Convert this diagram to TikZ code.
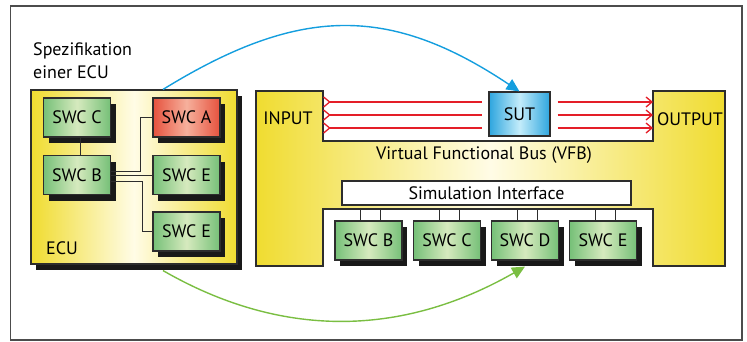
\documentclass[tikz,border=0pt]{standalone}
\usepackage{fontspec}
\setmainfont{PT Sans}
\usetikzlibrary{arrows.meta}
\usetikzlibrary{shadows}

\definecolor{ecuyellow}{RGB}{240,220,48}
\definecolor{ecucream}{RGB}{255,252,230}
\definecolor{swcgreen}{RGB}{118,192,120}
\definecolor{swclight}{RGB}{214,234,190}
\definecolor{swcred}{RGB}{230,82,62}
\definecolor{swcpink}{RGB}{246,176,156}
\definecolor{sutblue}{RGB}{45,165,222}
\definecolor{sutlight}{RGB}{195,236,250}
\definecolor{busred}{RGB}{228,30,40}
\definecolor{specblue}{RGB}{20,158,222}
\definecolor{testgreen}{RGB}{122,190,66}
\definecolor{edge}{RGB}{45,45,45}

\begin{document}
\begin{tikzpicture}[x=1pt, y=-1pt, font=\fontsize{18}{23}\selectfont,
    box/.style={draw=edge, line width=1.1pt, inner sep=0pt},
    shadowed/.style={drop shadow={shadow xshift=5pt, shadow yshift=-6pt, fill=black!90, opacity=1}},
    swc/.style={box, shadowed, minimum width=67pt, minimum height=39pt,
        left color=swcgreen, right color=swcgreen, middle color=swclight},
    swcA/.style={swc, left color=swcred, right color=swcred, middle color=swcpink},
    link/.style={draw=edge, line width=1pt},
    bus/.style={busred, line width=1.3pt},
    spec/.style={specblue, line width=1.4pt, -{Triangle[length=13pt, width=12pt]}},
    test/.style={testgreen, line width=1.4pt, -{Triangle[length=13pt, width=12pt]}}]
    \useasboundingbox (0,0) rectangle (747,341);
    \draw[black!70, line width=1.3pt] (10.5,6) rectangle (742,340);

    % ECU specification
    \node[anchor=north west, align=left, inner sep=0pt] (spec) at (33,42) {Spezifikation\\einer ECU};
    \node[box, shadowed, minimum width=206pt, minimum height=174pt,
        left color=ecuyellow, right color=ecuyellow, middle color=ecucream] (ecu) at (134,177) {};
    \node[anchor=west, inner sep=0pt] (ecutext) at (46,248) {ECU};
    \node[swc] (swcC) at (77,117.5) {SWC C};
    \node[swcA] (swcA) at (186.5,117.5) {SWC A};
    \node[swc] (swcB) at (77,175) {SWC B};
    \node[swc] (swcE) at (186.5,175) {SWC E};
    \node[swc] (swcEb) at (186.5,231.5) {SWC E};
    \draw[link] ([xshift=3pt]swcC.south) -- ([xshift=3pt]swcB.north);
    \draw[link] ([yshift=4pt]swcB.east) -- ++(29,0) |- (swcA.west);
    \draw[link] (swcB.east) -- (swcE.west);
    \draw[link] ([yshift=-6pt]swcB.east) -- ++(31,0) |- (swcEb.west);

    % virtual functional bus
    \path[draw=edge, line width=1.1pt, left color=ecuyellow, right color=ecuyellow, middle color=ecucream]
        (256,91) -- (323,91) -- (323,141) -- (653,141) -- (653,91) -- (725,91) -- (725,266)
        -- (653,266) -- (653,209) -- (323,209) -- (323,266) -- (256,266) -- cycle;
    \coordinate (inport) at (323,115);
    \coordinate (outport) at (653,115);
    \node (input) at (288,118) {INPUT};
    \node (output) at (690,119) {OUTPUT};
    \node[box, minimum width=61pt, minimum height=44pt,
        left color=sutblue, right color=sutblue, middle color=sutlight] (sut) at (519.5,114) {SUT};
    \coordinate (sutin) at ([xshift=-6pt]sut.west |- inport);
    \coordinate (sutout) at ([xshift=7pt]sut.east |- outport);
    \foreach \dy in {-13,0,13} {
        \draw[bus, {Straight Barb[reversed, length=6pt, width=10pt]}-] ([yshift=\dy pt]inport) -- ([yshift=\dy pt]sutin);
        \draw[bus, -{Straight Barb[length=6pt, width=10pt]}] ([yshift=\dy pt]sutout) -- ([yshift=\dy pt]outport);
    }
    \node (vfb) at (484,155) {Virtual Functional Bus (VFB)};
    \node[box, fill=white, minimum width=289pt, minimum height=24pt] (simif) at (486.5,193) {Simulation Interface};
    \node[swc] (vfbB) at (368.5,240.5) {SWC B};
    \node[swc] (vfbC) at (447,240.5) {SWC C};
    \node[swc] (vfbD) at (525,240.5) {SWC D};
    \node[swc] (vfbE) at (603,240.5) {SWC E};
    \foreach \n in {vfbB,vfbC,vfbD,vfbE} {
        \draw[link] ([xshift=-8pt]\n.north) -- ++(0,-11);
        \draw[link] ([xshift=12pt]\n.north) -- ++(0,-11);
    }

    % mapping arrows
    \draw[spec] ([xshift=29pt]ecu.north) .. controls (300,5) and (390,5) .. (sut.north);
    \draw[test] ([xshift=29pt, yshift=-6pt]ecu.south) .. controls (280,338) and (400,338) .. ([yshift=-6pt]vfbD.south);
\end{tikzpicture}
\end{document}
